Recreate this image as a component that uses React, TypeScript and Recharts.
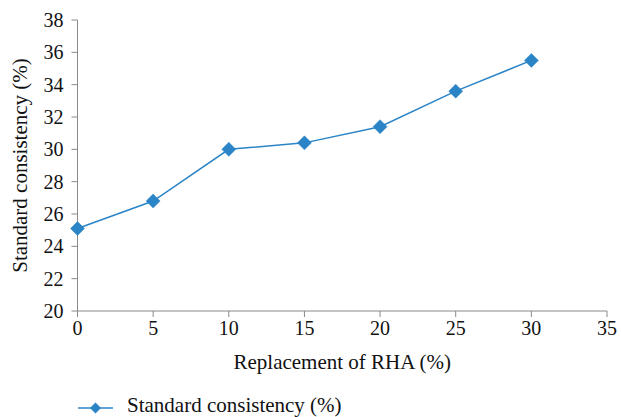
import React from "react";
import { LineChart, Line, XAxis, YAxis, Legend } from "recharts";

const replacement = [0, 5, 10, 15, 20, 25, 30];
const consistency = [25.1, 26.8, 30.0, 30.4, 31.4, 33.6, 35.5];
const xTicks = [0, 5, 10, 15, 20, 25, 30, 35];
const yTicks = [20, 22, 24, 26, 28, 30, 32, 34, 36, 38];
const seriesName = "Standard consistency (%)";

const data = replacement.map((r, i) => ({ x: r, y: consistency[i] }));

const FONT = "Liberation Serif";
const BLUE = "#2b84c6";
const AXIS = "#8a8a8a";

const Diamond = (props: any) => {
  const { cx, cy } = props;
  if (cx == null || cy == null) return null;
  const r = 7;
  return (
    <path
      d={`M${cx},${cy - r} L${cx + r},${cy} L${cx},${cy + r} L${cx - r},${cy} Z`}
      fill={BLUE}
      stroke={BLUE}
      strokeWidth={0.5}
    />
  );
};

const LegendContent = () => (
  <svg width={621} height={40} style={{ display: "block", overflow: "visible" }}>
    <line x1={78} y1={31} x2={113} y2={31} stroke={BLUE} strokeWidth={1.5} />
    <path d="M95.5,25.5 L101,31 L95.5,36.5 L90,31 Z" fill={BLUE} />
    <text x={127} y={35} style={{ fontFamily: FONT, fontSize: 21 }} fill="#111">
      {seriesName}
    </text>
  </svg>
);

export default function App() {
  return (
    <div style={{ position: "absolute", left: 0, top: 0, width: 621, height: 417, background: "#fff", fontFamily: FONT }}>
      <LineChart width={621} height={417} data={data} margin={{ top: 20, right: 14, left: 0, bottom: 0 }} style={{ fontFamily: FONT }}>
        <XAxis
          dataKey="x"
          type="number"
          domain={[0, 35]}
          ticks={xTicks}
          height={66}
          stroke={AXIS}
          tickSize={6}
          tick={{ fill: "#111", fontSize: 20, style: { fontFamily: FONT } }}
          tickMargin={4}
          label={{ value: "Replacement of RHA (%)", position: "insideBottom", offset: 8, fill: "#111", fontSize: 21, style: { fontFamily: FONT } }}
        />
        <YAxis
          type="number"
          domain={[20, 38]}
          ticks={yTicks}
          width={77.5}
          stroke={AXIS}
          tickSize={6}
          tick={{ fill: "#111", fontSize: 20, style: { fontFamily: FONT } }}
          tickMargin={8}
          label={{ value: "Standard consistency (%)", angle: -90, position: "insideLeft", offset: 20, style: { textAnchor: "middle", fontFamily: FONT }, fill: "#111", fontSize: 21 }}
        />
        <Legend verticalAlign="bottom" height={40} content={LegendContent} wrapperStyle={{ left: 0, width: 621 }} />
        <Line
          dataKey="y"
          name={seriesName}
          stroke={BLUE}
          strokeWidth={1.5}
          dot={<Diamond />}
          activeDot={false}
          isAnimationActive={false}
        />
      </LineChart>
    </div>
  );
}
